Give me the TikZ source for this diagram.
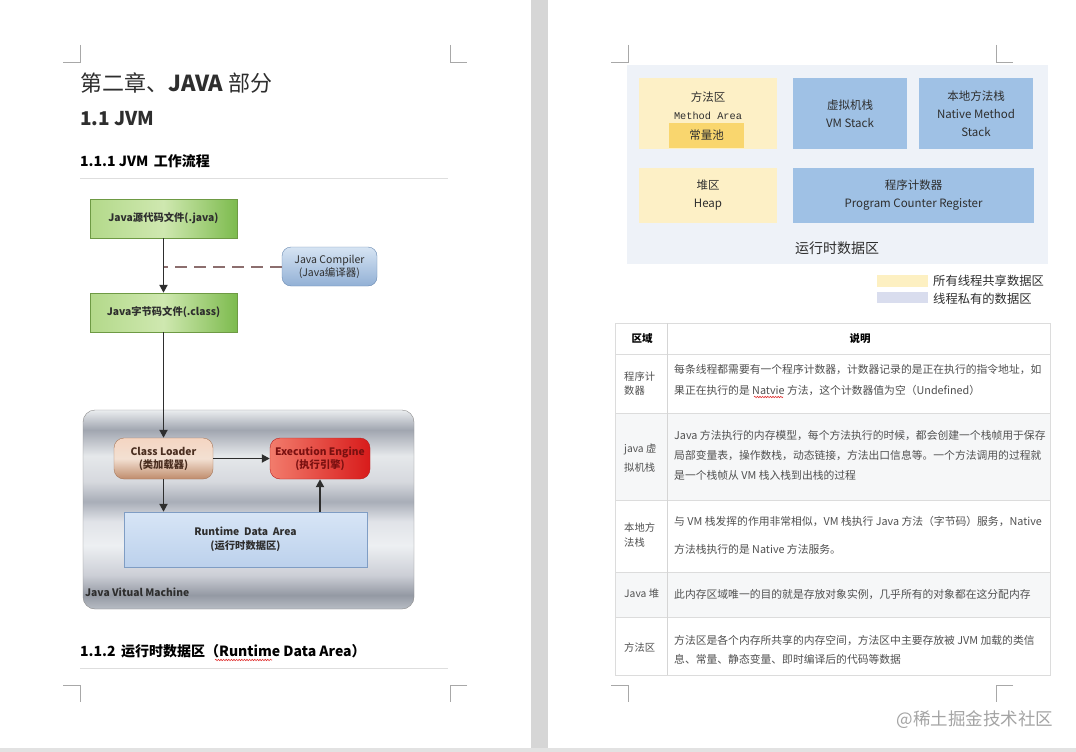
\documentclass[tikz,border=0pt]{standalone}
\usepackage{fontspec}
\setmainfont{Noto Sans CJK SC}
\newfontfamily\monofont{Liberation Mono}
\usetikzlibrary{arrows.meta,decorations.pathmorphing}

\definecolor{ink}{HTML}{2E2E2E}
\definecolor{softink}{HTML}{505050}
\definecolor{rulegray}{HTML}{DEDEDE}
\definecolor{markgray}{HTML}{A8A8A8}
\definecolor{gapgray}{HTML}{D6D6D6}
\definecolor{greenL}{HTML}{B3D98A}
\definecolor{greenM}{HTML}{CFE8B0}
\definecolor{greenR}{HTML}{7DBB4E}
\definecolor{greenedge}{HTML}{6E9A44}
\definecolor{javacT}{HTML}{D6E4F3}
\definecolor{javacB}{HTML}{92B0D5}
\definecolor{javacedge}{HTML}{6A8AB2}
\definecolor{dashbrown}{HTML}{8C6E6E}
\definecolor{loaderT}{HTML}{F4D5C2}
\definecolor{loaderM}{HTML}{F3E0D2}
\definecolor{loaderB}{HTML}{BF8C6C}
\definecolor{loaderedge}{HTML}{A8785A}
\definecolor{loadertext}{HTML}{4A2E20}
\definecolor{engineL}{HTML}{F27C6C}
\definecolor{engineR}{HTML}{D81B1B}
\definecolor{engineedge}{HTML}{B81E1E}
\definecolor{enginetext}{HTML}{7A1010}
\definecolor{rdaT}{HTML}{D7E5F6}
\definecolor{rdaB}{HTML}{BCD1EC}
\definecolor{rdaedge}{HTML}{7F9DC4}
\definecolor{jvmedge}{HTML}{8A8A8A}
\definecolor{areabg}{HTML}{EEF2F8}
\definecolor{sharedbox}{HTML}{FDF0C6}
\definecolor{poolbox}{HTML}{F9D66E}
\definecolor{privbox}{HTML}{9FC1E5}
\definecolor{sharedkey}{HTML}{FDF0C2}
\definecolor{privkey}{HTML}{D9DDEE}
\definecolor{stripe}{HTML}{F6F7F8}
\definecolor{tableline}{HTML}{DCDCDC}
\definecolor{watermark}{HTML}{A4A4A4}
\definecolor{spellred}{HTML}{E03030}

\pgfdeclareverticalshading{jvmmetal}{100bp}{%
  rgb(0bp)=(0.72,0.74,0.77); rgb(25bp)=(0.72,0.74,0.77);
  rgb(28.5bp)=(0.58,0.60,0.64); rgb(33.5bp)=(0.80,0.81,0.84);
  rgb(41bp)=(0.93,0.94,0.95); rgb(47bp)=(0.88,0.89,0.91);
  rgb(52bp)=(0.66,0.68,0.72); rgb(57bp)=(0.84,0.85,0.87);
  rgb(63.5bp)=(0.90,0.91,0.92); rgb(70bp)=(0.63,0.65,0.69);
  rgb(75bp)=(0.92,0.93,0.94); rgb(100bp)=(0.92,0.93,0.94)}

\tikzset{
  cropmark/.style={draw=markgray, line width=0.8pt},
  headrule/.style={draw=rulegray, line width=0.8pt},
  filebox/.style={draw=greenedge, left color=greenL, right color=greenR, middle color=greenM,
    minimum width=147pt, minimum height=39pt, text=ink, font=\bfseries\fontsize{10.3}{12}\selectfont},
  javacbox/.style={draw=javacedge, rounded corners=9pt, top color=javacT, bottom color=javacB,
    minimum width=95pt, minimum height=39pt, align=center, text=ink, font=\fontsize{10.5}{13}\selectfont},
  jvmbox/.style={draw=jvmedge, rounded corners=12pt, shade, shading=jvmmetal,
    minimum width=331pt, minimum height=199pt},
  loaderbox/.style={draw=loaderedge, rounded corners=10pt, top color=loaderT, bottom color=loaderB, middle color=loaderM,
    minimum width=99pt, minimum height=41pt, align=center, text=loadertext, font=\bfseries\fontsize{10.3}{13}\selectfont},
  enginebox/.style={draw=engineedge, rounded corners=10pt, left color=engineL, right color=engineR,
    minimum width=100pt, minimum height=41pt, align=center, text=enginetext, font=\bfseries\fontsize{10.3}{13}\selectfont},
  rdabox/.style={draw=rdaedge, top color=rdaT, bottom color=rdaB,
    minimum width=243pt, minimum height=55pt, align=center, text=ink, font=\bfseries\fontsize{10.3}{14}\selectfont},
  flow/.style={->, line width=1.9pt, draw=ink},
  compileline/.style={draw=dashbrown, line width=2pt, dash pattern=on 12pt off 7pt},
  regionbox/.style={inner sep=0pt, align=center, text=ink, font=\fontsize{11.5}{18}\selectfont},
  cell/.style={anchor=west, align=left, inner sep=0pt, text=softink},
  spell/.style={draw=spellred, line width=0.6pt, decorate, decoration={snake, amplitude=0.7pt, segment length=2.6pt}}
}

\begin{document}
\begin{tikzpicture}[x=1pt, y=-1pt, >={Triangle[length=8pt,width=8pt]}]
  \useasboundingbox (0,0) rectangle (1076,752);
  \fill[white] (0,0) rectangle (1076,752);
  \fill[gapgray] (531,0) rectangle (548,752);
  \fill[gapgray!70] (0,748) rectangle (1076,752);

  % left page: crop marks
  \draw[cropmark] (80,45) -- (80,62) -- (63,62);
  \draw[cropmark] (450,45) -- (450,62) -- (467,62);
  \draw[cropmark] (63,685) -- (80,685) -- (80,702);
  \draw[cropmark] (467,685) -- (450,685) -- (450,702);

  % left page: headings
  \node[anchor=base west, inner sep=0pt, text=ink, font=\fontsize{22}{26}\selectfont] (chapter) at (80,92) {第二章、{\bfseries JAVA} 部分};
  \node[anchor=base west, inner sep=0pt, text=ink, font=\bfseries\fontsize{19}{22}\selectfont] (jvmsec) at (80,125) {1.1 JVM};
  \node[anchor=base west, inner sep=0pt, text=black, font=\bfseries\fontsize{14}{17}\selectfont] (flowsec) at (80,166) {1.1.1 JVM\, 工作流程};
  \draw[headrule] (80,178) -- (448,178);

  % left page: JVM work flow
  \node[filebox] (src) at (163.5,218.5) {Java源代码文件(.java)};
  \node[filebox] (cls) at (163.5,312.5) {Java字节码文件(.class)};
  \node[javacbox] (javac) at (329.5,266.5) {Java Compiler\\(Java编译器)};
  \node[jvmbox] (jvm) at (248.5,509.5) {};
  \node[anchor=base west, inner sep=0pt, text=ink, font=\bfseries\fontsize{10.3}{12}\selectfont] (jvmlabel) at (85,596) {Java Vitual Machine};
  \node[loaderbox] (loader) at (163.5,458.5) {Class Loader\\(类加载器)};
  \node[enginebox] (engine) at (320,458.5) {Execution Engine\\(执行引擎)};
  \node[rdabox] (rda) at (245.5,539.5) {Runtime\ \ Data\ \ Area\\(运行时数据区)};

  \draw[flow] (src) -- (cls);
  \draw[compileline] (javac) -- (javac -| src);
  \draw[flow] (cls) -- (loader);
  \draw[flow] (loader) -- (engine);
  \draw[flow] (loader) -- (loader |- rda.north);
  \draw[flow] (rda.north -| engine) -- (engine);

  \node[anchor=base west, inner sep=0pt, text=black, font=\bfseries\fontsize{14}{17}\selectfont] (rdasec) at (80,656) {1.1.2\, 运行时数据区（Runtime Data Area）};
  \draw[spell] (215,660) -- (272,660);
  \draw[headrule] (80,668) -- (448,668);

  % right page: crop marks
  \draw[cropmark] (628,45) -- (628,62) -- (611,62);
  \draw[cropmark] (996,45) -- (996,62) -- (1013,62);
  \draw[cropmark] (611,685) -- (628,685) -- (628,702);
  \draw[cropmark] (1013,685) -- (996,685) -- (996,702);

  % right page: runtime data area
  \node[fill=areabg, minimum width=421pt, minimum height=199pt] (runarea) at (837.5,164.5) {};
  \node[fill=sharedbox, minimum width=138pt, minimum height=71pt] (marea) at (708,113.5) {};
  \node[regionbox] (mtitle) at (708,106) {方法区\\{\monofont\fontsize{10.3}{18}\selectfont Method Area}};
  \node[regionbox, fill=poolbox, minimum width=75pt, minimum height=25pt] (pool) at (706.5,135.5) {常量池};
  \node[regionbox, fill=privbox, minimum width=114pt, minimum height=71pt] (vmstack) at (850,113.5) {虚拟机栈\\VM Stack};
  \node[regionbox, fill=privbox, minimum width=114pt, minimum height=71pt] (native) at (976,113.5) {本地方法栈\\Native Method\\Stack};
  \node[regionbox, fill=sharedbox, minimum width=138pt, minimum height=55pt] (heap) at (708,195.5) {堆区\\Heap};
  \node[regionbox, fill=privbox, minimum width=241pt, minimum height=55pt] (pcreg) at (913.5,195.5) {程序计数器\\Program Counter Register};
  \node[text=ink, font=\fontsize{14}{17}\selectfont] (areatitle) at (837,248) {运行时数据区};

  \node[fill=sharedkey, minimum width=51pt, minimum height=12pt, inner sep=0pt] (sharedkey) at (902.5,281) {};
  \node[anchor=west, inner sep=0pt, text=ink, font=\fontsize{12.3}{15}\selectfont] (sharedtext) at (933,281) {所有线程共享数据区};
  \node[fill=privkey, minimum width=51pt, minimum height=11pt, inner sep=0pt] (privkey) at (902.5,297.5) {};
  \node[anchor=west, inner sep=0pt, text=ink, font=\fontsize{12.3}{15}\selectfont] (privtext) at (933,298.5) {线程私有的数据区};

  % right page: table
  \fill[stripe] (615,413) rectangle (1050,500);
  \fill[stripe] (615,572) rectangle (1050,617);
  \draw[tableline, line width=0.8pt] (615,323) rectangle (1050,675);
  \foreach \rowy in {354,413,500,572,617}
    \draw[tableline, line width=0.8pt] (615,\rowy) -- (1050,\rowy);
  \draw[tableline!120, line width=0.8pt] (667,323) -- (667,675);

  \node[text=black, font=\bfseries\fontsize{10.5}{13}\selectfont] (headarea) at (642,339) {区域};
  \node[text=black, font=\bfseries\fontsize{10.5}{13}\selectfont] (headdesc) at (860,339) {说明};

  \node[cell, font=\fontsize{10.3}{14}\selectfont] (pcname) at (624,384) {程序计\\数器};
  \node[cell, font=\fontsize{10.8}{21}\selectfont] (pcdesc) at (674,380.5) {每条线程都需要有一个程序计数器，计数器记录的是正在执行的指令地址，如\\果正在执行的是 Natvie 方法，这个计数器值为空（Undefined）};
  \draw[spell] (754,397) -- (783,397);

  \node[cell, font=\fontsize{10.3}{19}\selectfont] (vmname) at (624,458.5) {java 虚\\拟机栈};
  \node[cell, font=\fontsize{10.8}{20}\selectfont] (vmdesc) at (674,455) {Java 方法执行的内存模型，每个方法执行的时候，都会创建一个栈帧用于保存\\局部变量表，操作数栈，动态链接，方法出口信息等。一个方法调用的过程就\\是一个栈帧从 VM 栈入栈到出栈的过程};

  \node[cell, font=\fontsize{10.3}{15}\selectfont] (nativename) at (624,535.5) {本地方\\法栈};
  \node[cell, font=\fontsize{10.8}{28}\selectfont] (nativedesc) at (674,535) {与 VM 栈发挥的作用非常相似，VM 栈执行 Java 方法（字节码）服务，Native\\方法栈执行的是 Native 方法服务。};

  \node[cell, font=\fontsize{10.3}{14}\selectfont] (heapname) at (624,594) {Java 堆};
  \node[cell, font=\fontsize{10.8}{14}\selectfont] (heapdesc) at (674,594) {此内存区域唯一的目的就是存放对象实例，几乎所有的对象都在这分配内存};

  \node[cell, font=\fontsize{10.3}{14}\selectfont] (methodname) at (624,648) {方法区};
  \node[cell, font=\fontsize{10.8}{19}\selectfont] (methoddesc) at (674,649.5) {方法区是各个内存所共享的内存空间，方法区中主要存放被 JVM 加载的类信\\息、常量、静态变量、即时编译后的代码等数据};

  \node[text=watermark, font=\fontsize{17.5}{20}\selectfont] (mark) at (975,720) {@稀土掘金技术社区};
\end{tikzpicture}
\end{document}
